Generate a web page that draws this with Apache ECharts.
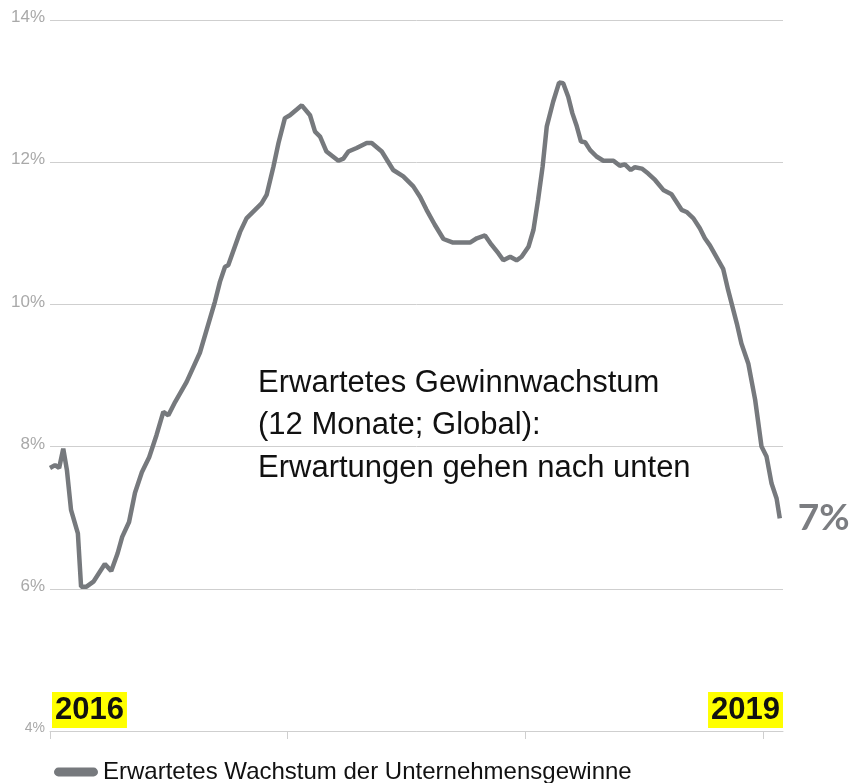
<!DOCTYPE html>
<html>
<head>
<meta charset="utf-8">
<title>Erwartetes Gewinnwachstum</title>
<script src="https://cdn.jsdelivr.net/npm/echarts@6/dist/echarts.min.js"></script>
<style>
  html, body { margin: 0; padding: 0; background: #fff; }
  #chartmain { width: 852px; height: 783px; }
</style>
</head>
<body>
<div id="chartmain"></div>
<script>
// Wochen seit Anfang 2016
var weeks = [0, 1.1, 2.0, 2.9, 3.7, 4.6, 6.1, 6.8, 8.0, 9.5,
    12.0, 13.4, 14.8, 15.8, 17.3, 18.6, 20.1, 21.7, 23.3, 24.8,
    25.9, 27.4, 29.9, 32.8, 36.1, 37.2, 38.3, 39.0, 41.6, 43.0,
    46.3, 47.4, 48.9, 50.0, 51.4, 52.5, 55.1, 56.9, 58.0, 59.1,
    60.5, 63.1, 64.2, 65.3, 67.1, 69.3, 70.4, 72.6, 75.1, 77.3,
    79.5, 81.0, 82.4, 84.2, 86.1, 88.2, 91.9, 93.4, 95.2, 96.6,
    98.1, 99.2, 100.7, 102.1, 103.2, 104.7, 105.8, 106.8, 107.8, 108.7,
    110.1, 111.4, 112.3, 113.4, 114.3, 115.2, 116.2, 117.1, 118.2, 119.6,
    121.1, 123.3, 124.7, 125.8, 127.1, 128.0, 129.5, 130.9, 132.4, 134.2,
    136.0, 138.2, 139.3, 140.8, 142.2, 143.3, 144.4, 147.3, 148.4, 150.3,
    151.3, 152.8, 154.3, 155.7, 156.8, 157.9, 159.0, 159.7];

// erwartetes Gewinnwachstum in %
var growth = [7.70, 7.74, 7.70, 7.97, 7.67, 7.11, 6.78, 6.03, 6.03, 6.10,
    6.35, 6.25, 6.50, 6.73, 6.94, 7.35, 7.64, 7.85, 8.16, 8.49,
    8.44, 8.63, 8.91, 9.32, 10.04, 10.32, 10.53, 10.55, 11.02, 11.21,
    11.42, 11.54, 11.94, 12.27, 12.62, 12.66, 12.80, 12.66, 12.43, 12.36,
    12.15, 12.02, 12.05, 12.15, 12.20, 12.27, 12.27, 12.15, 11.89, 11.80,
    11.66, 11.51, 11.33, 11.12, 10.92, 10.87, 10.87, 10.93, 10.97, 10.84,
    10.72, 10.62, 10.67, 10.62, 10.67, 10.81, 11.05, 11.47, 11.94, 12.50,
    12.85, 13.12, 13.11, 12.92, 12.69, 12.52, 12.29, 12.28, 12.17, 12.08,
    12.02, 12.02, 11.95, 11.97, 11.89, 11.93, 11.91, 11.84, 11.75, 11.61,
    11.55, 11.33, 11.30, 11.21, 11.07, 10.93, 10.83, 10.50, 10.20, 9.73,
    9.45, 9.17, 8.66, 8.00, 7.86, 7.48, 7.27, 6.99];

var yearTicks = [0, 52, 104, 156];
var yearLabels = ['2016', '2019'];
var seriesName = 'Erwartetes Wachstum der Unternehmensgewinne';
var noteText = 'Erwartetes Gewinnwachstum\n(12 Monate; Global):\nErwartungen gehen nach unten';
var endText = '7%';

var lineData = [];
for (var i = 0; i < weeks.length; i++) {
    lineData.push([weeks[i], growth[i]]);
}

var grey = '#76797d';

var option = {
    animation: false,
    grid: { left: 50, right: 69, top: 20, bottom: 52 },
    xAxis: {
        type: 'value',
        min: 0,
        max: 160.4,
        axisLine: { show: true, lineStyle: { color: '#cfcfcf', width: 1 } },
        axisTick: { show: true, customValues: yearTicks, length: 8, lineStyle: { color: '#cfcfcf' } },
        axisLabel: { show: false },
        splitLine: { show: false }
    },
    yAxis: {
        type: 'value',
        min: 4,
        max: 14,
        interval: 2,
        axisLine: { show: false },
        axisTick: { show: false },
        axisLabel: {
            margin: 5,
            color: '#a9a9a9',
            fontSize: 17,
            fontFamily: 'Liberation Sans',
            padding: [0, 0, 5, 0],
            formatter: function (v) {
                return v === 4 ? '{s|4%}' : v + '%';
            },
            rich: {
                s: { fontSize: 14, color: '#a9a9a9', fontFamily: 'Liberation Sans' }
            }
        },
        splitLine: { lineStyle: { color: '#cfcfcf', width: 1 } }
    },
    legend: {
        left: 49,
        top: 755,
        icon: 'path://M4,0 L36,0 A4,4 0 0 1 36,8 L4,8 A4,4 0 0 1 4,0 Z',
        itemWidth: 44,
        itemHeight: 9,
        itemGap: 20,
        textStyle: { fontSize: 24, color: '#111', fontFamily: 'Liberation Sans' },
        data: [seriesName]
    },
    graphic: [
        {
            type: 'text',
            left: 258,
            top: 362,
            style: {
                text: noteText,
                font: '31px "Liberation Sans"',
                fill: '#111',
                lineHeight: 42.5
            }
        },
        {
            type: 'text',
            left: 52,
            top: 692,
            style: {
                text: yearLabels[0],
                font: 'bold 31px "Liberation Sans"',
                fill: '#111',
                backgroundColor: '#ffff00',
                padding: [3, 3, 2, 3]
            }
        },
        {
            type: 'text',
            right: 69,
            top: 692,
            style: {
                text: yearLabels[1],
                font: 'bold 31px "Liberation Sans"',
                fill: '#111',
                backgroundColor: '#ffff00',
                padding: [3, 3, 2, 3]
            }
        }
    ],
    series: [
        {
            name: seriesName,
            type: 'line',
            data: lineData,
            showSymbol: false,
            symbol: 'none',
            itemStyle: { color: grey },
            lineStyle: { color: grey, width: 4.5 },
            endLabel: {
                show: true,
                formatter: endText,
                distance: 18,
                fontSize: 37,
                fontWeight: 'bold',
                fontFamily: 'Lato',
                color: '#7b7d81'
            }
        }
    ]
};

var myChart = echarts.init(document.getElementById('chartmain'));
myChart.setOption(option);
</script>
</body>
</html>
